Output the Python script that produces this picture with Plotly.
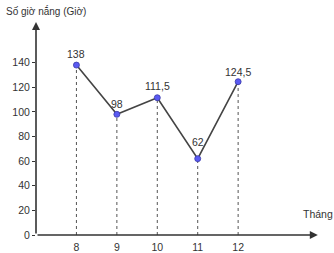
import plotly.graph_objects as go

months = [8, 9, 10, 11, 12]
hours = [138, 98, 111.5, 62, 124.5]
labels = ["138", "98", "111,5", "62", "124,5"]
label_shift = [11, 10, 12, 17, 10]
y_ticks = [0, 20, 40, 60, 80, 100, 120, 140]

FONT = "Liberation Sans, Arial, sans-serif"
TXT = "#333333"
FS = 10.5

fig = go.Figure()

# dotted drop lines
dx, dy = [], []
for m, h in zip(months, hours):
    dx += [m, m, None]
    dy += [0, h, None]
fig.add_trace(go.Scatter(x=dx, y=dy, mode="lines",
                         line=dict(color="#555555", width=1, dash="dot"),
                         hoverinfo="skip", showlegend=False))

fig.add_trace(go.Scatter(x=months, y=hours, mode="lines+markers",
                         line=dict(color="#444444", width=1.6),
                         marker=dict(size=6, color="#5a5af2",
                                     line=dict(color="#3a3aa8", width=0.8)),
                         showlegend=False))

X0, X1 = 7.0, 14.0
Y0, Y1 = 0.0, 173.0

annotations = []
for m, h, t, s in zip(months, hours, labels, label_shift):
    annotations.append(dict(x=m, y=h, text=t, showarrow=False, yshift=s,
                            font=dict(family=FONT, size=FS, color=TXT)))
# axes arrows
annotations.append(dict(x=X0, y=Y1, ax=X0, ay=Y0, xref="x", yref="y",
                        axref="x", ayref="y", showarrow=True, arrowhead=2,
                        arrowsize=1, arrowwidth=1.6, arrowcolor="#333333", text=""))
annotations.append(dict(x=X1 - 0.03, y=Y0, ax=X0, ay=Y0, xref="x", yref="y",
                        axref="x", ayref="y", showarrow=True, arrowhead=2,
                        arrowsize=1, arrowwidth=1.6, arrowcolor="#333333", text=""))
annotations.append(dict(x=13.55, y=17, text="Tháng", showarrow=False,
                        xanchor="left", font=dict(family=FONT, size=FS, color=TXT)))
annotations.append(dict(x=-0.113, y=1, xref="paper", yref="paper", yshift=11,
                        xanchor="left", yanchor="middle", text="Số giờ nắng (Giờ)",
                        showarrow=False, font=dict(family=FONT, size=10, color=TXT)))

fig.update_layout(
    width=334, height=253,
    margin=dict(l=36, r=15, t=22, b=18),
    paper_bgcolor="white", plot_bgcolor="white",
    annotations=annotations,
    xaxis=dict(range=[X0, X1], tickvals=months, ticktext=[str(m) for m in months],
               showgrid=False, zeroline=False, showline=False, automargin=False,
               ticks="outside", ticklen=2, tickcolor="rgba(0,0,0,0)",
               tickfont=dict(family=FONT, size=FS, color=TXT)),
    yaxis=dict(range=[Y0, Y1], tickvals=y_ticks, showgrid=False, zeroline=False,
               showline=False, automargin=False, ticks="outside", ticklen=3,
               tickwidth=1.2, tickcolor="#333333",
               tickfont=dict(family=FONT, size=FS, color=TXT)),
)

fig.write_html("out.html")
